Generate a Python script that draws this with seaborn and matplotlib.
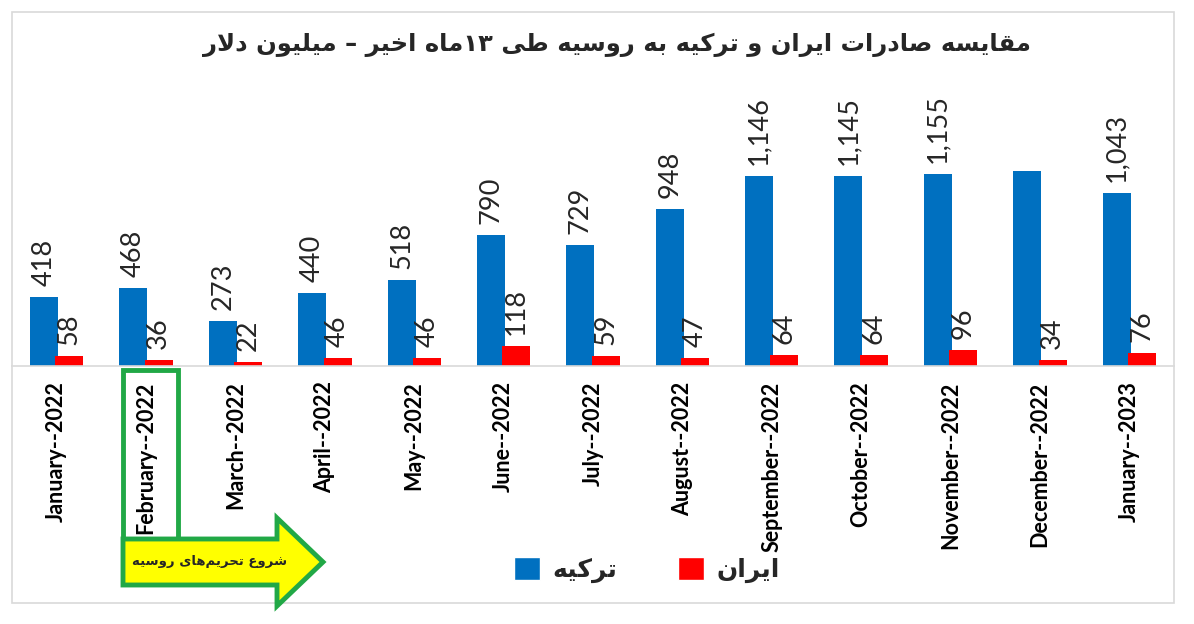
import re
import numpy as np
import pandas as pd
import seaborn as sns
import matplotlib.pyplot as plt
from matplotlib.patches import Rectangle, Polygon

months = ['January--2022', 'February--2022', 'March--2022', 'April--2022', 'May--2022',
          'June--2022', 'July--2022', 'August--2022', 'September--2022', 'October--2022',
          'November--2022', 'December--2022', 'January--2023']
turkey = [418, 468, 273, 440, 518, 790, 729, 948, 1146, 1145, 1155, 1175, 1043]
iran = [58, 36, 22, 46, 46, 118, 59, 47, 64, 64, 96, 34, 76]
# december value for turkey has no label in the original
turkey_labels = ['418', '468', '273', '440', '518', '790', '729', '948',
                 '1,146', '1,145', '1,155', '', '1,043']
iran_labels = [str(v) for v in iran]

title = 'مقایسه صادرات ایران و ترکیه به روسیه طی ۱۳ماه اخیر – میلیون دلار'
name_turkey = 'ترکیه'
name_iran = 'ایران'
note = 'شروع تحریم\u200cهای روسیه'

# --- tiny arabic shaper (matplotlib has no shaping / bidi) ---
DUAL = {'ب': 0xFE8F, 'ت': 0xFE95, 'ث': 0xFE99, 'ج': 0xFE9D, 'ح': 0xFEA1, 'خ': 0xFEA5,
        'س': 0xFEB1, 'ش': 0xFEB5, 'ص': 0xFEB9, 'ض': 0xFEBD, 'ط': 0xFEC1, 'ظ': 0xFEC5,
        'ع': 0xFEC9, 'غ': 0xFECD, 'ف': 0xFED1, 'ق': 0xFED5, 'ك': 0xFED9, 'ل': 0xFEDD,
        'م': 0xFEE1, 'ن': 0xFEE5, 'ه': 0xFEE9, 'ي': 0xFEF1, 'پ': 0xFB56, 'چ': 0xFB7A,
        'ک': 0xFB8E, 'گ': 0xFB92, 'ی': 0xFBFC}
RIGHT = {'ا': 0xFE8D, 'آ': 0xFE81, 'د': 0xFEA9, 'ذ': 0xFEAB, 'ر': 0xFEAD, 'ز': 0xFEAF,
         'و': 0xFEED, 'ژ': 0xFB8A}


def fa(text):
    out = []
    n = len(text)
    i = 0
    while i < n:
        c = text[i]
        prev_join = i > 0 and text[i - 1] in DUAL
        if c == 'ل' and i + 1 < n and text[i + 1] == 'ا':
            out.append(chr(0xFEFC if prev_join else 0xFEFB))
            i += 2
            continue
        if c in DUAL or c in RIGHT:
            base = DUAL.get(c, RIGHT.get(c))
            next_join = c in DUAL and i + 1 < n and (text[i + 1] in DUAL or text[i + 1] in RIGHT)
            if prev_join and next_join:
                code = base + 3
            elif prev_join:
                code = base + 1
            elif next_join:
                code = base + 2
            else:
                code = base
            out.append(chr(code))
        elif c != '\u200c':
            out.append(c)
        i += 1
    s = ''.join(out)
    parts = re.split(r'([0-9\u06f0-\u06f9]+)', s)
    digit = re.compile(r'[0-9\u06f0-\u06f9]+')
    return ''.join(p if digit.fullmatch(p) else p[::-1] for p in reversed(parts))


BLUE = '#0070C0'
RED = '#FF0000'
GREEN = '#21A846'

df = pd.DataFrame({
    'month': months * 2,
    'value': turkey + iran,
    'country': ['turkey'] * len(months) + ['iran'] * len(months),
})

sns.set_style('white')
plt.rcParams['font.family'] = ['Lato', 'DejaVu Sans']

W, H = 1194, 624
fig = plt.figure(figsize=(W / 100, H / 100), dpi=100)
ax = fig.add_axes([12 / W, 1 - 366 / H, 1162 / W, 316 / H])

sns.barplot(data=df, x='month', y='value', hue='country', palette=[BLUE, RED],
            width=0.6, ax=ax, legend=False, saturation=1)

# narrow, slightly overlapping bars like the original
bw = 0.313
for k, cont in enumerate(ax.containers):
    off = -0.142 if k == 0 else 0.142
    for i, bar in enumerate(cont):
        bar.set_width(bw)
        bar.set_x(i + off - bw / 2)
        bar.set_edgecolor('none')

ax.bar_label(ax.containers[0], labels=turkey_labels, rotation=90, padding=8,
             fontsize=19.5, color='#262626')
ax.bar_label(ax.containers[1], labels=iran_labels, rotation=90, padding=8,
             fontsize=19.5, color='#262626')

ax.set_xlim(-0.5, 12.5)
ax.set_ylim(0, 316 / 0.166)
ax.set_xlabel('')
ax.set_ylabel('')
ax.set_yticks([])
ax.tick_params(axis='x', length=0, pad=11)
plt.setp(ax.get_xticklabels(), rotation=90, fontsize=15.5, fontweight='bold', color='black')
for s in ['top', 'left', 'right']:
    ax.spines[s].set_visible(False)
ax.spines['bottom'].set_color('#d9d9d9')
ax.spines['bottom'].set_linewidth(1.2)


def fx(x):
    return x / W


def fy(y):
    return 1 - y / H


# outer frame
fig.add_artist(Rectangle((fx(12), fy(603)), fx(1174) - fx(12), fy(12) - fy(603),
                         fill=False, edgecolor='#d9d9d9', lw=1.2, transform=fig.transFigure))

fig.text(fx(617), fy(45), fa(title), ha='center', va='center', fontsize=17.5,
         fontweight='bold', family='DejaVu Sans')

# green box around February and the sanctions arrow
fig.add_artist(Rectangle((fx(123), fy(539)), fx(178) - fx(123), fy(370) - fy(539),
                         fill=False, edgecolor=GREEN, lw=3.5, transform=fig.transFigure))
arrow = [(123, 539), (277, 539), (277, 518), (323, 562), (277, 606), (277, 585), (123, 585)]
fig.add_artist(Polygon([(fx(x), fy(y)) for x, y in arrow], closed=True, facecolor='#FFFF00',
                       edgecolor=GREEN, lw=3.5, joinstyle='miter', transform=fig.transFigure))
fig.text(fx(210), fy(561), fa(note), ha='center', va='center', fontsize=9.5,
         fontweight='bold', family='DejaVu Sans')

handles = [Rectangle((0, 0), 1, 1, facecolor=BLUE), Rectangle((0, 0), 1, 1, facecolor=RED)]
fig.legend(handles, [fa(name_turkey), fa(name_iran)], loc='center',
           bbox_to_anchor=(fx(647), fy(570)), ncol=2, frameon=False,
           prop=dict(family='DejaVu Sans', weight='bold', size=18),
           handlelength=1.05, handleheight=1.05, columnspacing=2.4, handletextpad=0.5)

fig.savefig('out.png', dpi=100)
